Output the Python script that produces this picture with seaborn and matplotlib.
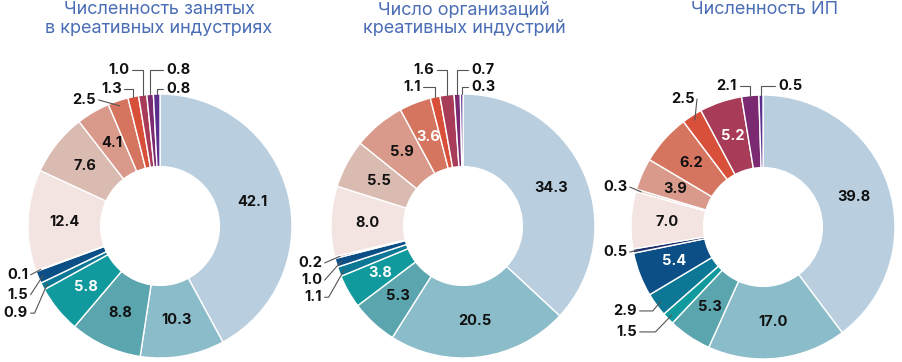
import numpy as np
import matplotlib
matplotlib.use("Agg")
import matplotlib.pyplot as plt
import seaborn as sns

# --- data -------------------------------------------------------------
titles = [
    "Численность занятых\nв креативных индустриях",
    "Число организаций\nкреативных индустрий",
    "Численность ИП",
]
employed = [42.1, 10.3, 8.8, 5.8, 0.9, 1.5, 0.1, 12.4, 7.6, 4.1, 2.5, 1.3, 1.0, 0.8, 0.8]
organizations = [34.3, 20.5, 5.3, 3.8, 1.1, 1.0, 0.2, 8.0, 5.5, 5.9, 3.6, 1.1, 1.6, 0.7, 0.3]
entrepreneurs = [39.8, 17.0, 5.3, 1.5, 2.9, 5.4, 0.5, 7.0, 0.3, 3.9, 6.2, 2.5, 5.2, 2.1, 0.5]
series = [employed, organizations, entrepreneurs]

colors = ["#b9cfe0", "#8bbcc9", "#5ba5ae", "#109a9e", "#0d7895", "#0c4f86", "#1d2f6d",
          "#f3e3e1", "#d9bbb1", "#d99a8b", "#d6755f", "#d9503a", "#a83b58", "#7b2a72", "#5a2e8c"]

# --- layout (pixels of the 902x362 canvas) ---------------------------
W, H = 902, 362
R = 132
centers = [(160, 226), (463, 226), (763, 227)]
title_x = [159, 464, 765]
white_text = [{3}, {3, 10}, {5, 12}]

# outside labels: index -> (x, y, ha, knee) in radius units; knee 'v' = drop vertically
outside = [
    {10: (-0.485, 0.955, "right", 0.0), 11: (-0.29, 1.04, "right", "v"),
     12: (-0.235, 1.18, "right", "v"), 13: (0.045, 1.18, "left", "v"),
     14: (0.045, 1.04, "left", "v"), 6: (-1.0, -0.37, "right", 0.0),
     5: (-1.0, -0.52, "right", 0.0), 4: (-1.0, -0.66, "right", 0.03)},
    {11: (-0.32, 1.053, "right", "v"), 12: (-0.22, 1.18, "right", "v"),
     13: (0.06, 1.18, "left", "v"), 14: (0.06, 1.053, "left", "v"),
     6: (-1.068, -0.28, "right", 0.0), 5: (-1.068, -0.41, "right", 0.0),
     4: (-1.068, -0.54, "right", 0.03)},
    {11: (-0.52, 0.97, "right", 0.0), 13: (-0.197, 1.068, "right", "v"),
     14: (0.114, 1.068, "left", "v"), 8: (-1.03, 0.303, "right", 0.0),
     6: (-1.03, -0.19, "right", 0.0), 4: (-0.955, -0.636, "right", 0.1),
     3: (-0.955, -0.795, "right", 0.12)},
]

sns.set_theme(style="white")
plt.rcParams["font.family"] = ["Inter", "DejaVu Sans"]
palette = sns.color_palette(colors)

fig = plt.figure(figsize=(W / 100, H / 100), dpi=100)

for k, vals in enumerate(series):
    cx, cy = centers[k]
    ax = fig.add_axes([(cx - R) / W, (H - cy - R) / H, 2 * R / W, 2 * R / H])
    wedges, _ = ax.pie(vals, colors=palette, startangle=90, counterclock=False,
                       radius=1.0, wedgeprops=dict(width=0.55, edgecolor="white", linewidth=1.0))
    ax.set_xlim(-1, 1)
    ax.set_ylim(-1, 1)
    ax.set_aspect("auto")
    ax.axis("off")

    for i, w in enumerate(wedges):
        ang = np.deg2rad((w.theta1 + w.theta2) / 2)
        ux, uy = np.cos(ang), np.sin(ang)
        txt = f"{vals[i]:.1f}"
        if i in outside[k]:
            lx, ly, ha, knee = outside[k][i]
            ax.text(lx, ly, txt, ha=ha, va="center", fontsize=10.5, fontweight="bold",
                    color="#111111", clip_on=False)
            sgn = 1 if ha == "right" else -1
            x0 = lx + sgn * 0.02
            if knee == "v":
                px, py = ux, uy
                xs, ys = [x0, px, px], [ly, ly, py]
            else:
                px, py = ux * 0.96, uy * 0.96
                xs, ys = [x0, x0 + knee, px], [ly, ly, py]
            ax.plot(xs, ys, color="#555555", lw=0.8, clip_on=False)
        else:
            c = "white" if i in white_text[k] else "#111111"
            ax.text(ux * 0.725, uy * 0.725, txt, ha="center", va="center",
                    fontsize=10.5, fontweight="bold", color=c)

    for j, line in enumerate(titles[k].split("\n")):
        fig.text(title_x[k] / W, 1 - (10 + 18 * j) / H, line, ha="center", va="center",
                 fontsize=13, color="#4a6db5")

fig.savefig("out.png", dpi=100)
